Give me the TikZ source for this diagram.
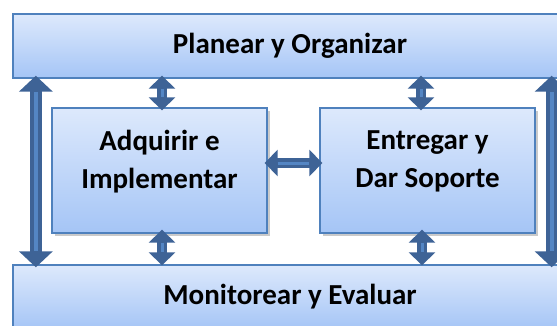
\documentclass[tikz,border=0pt]{standalone}
\usepackage{fontspec}
\setmainfont{Carlito}
\usepackage{tikz}
\usetikzlibrary{arrows.meta,calc,shadows,positioning}
\definecolor{boxtop}{RGB}{221,233,252}
\definecolor{boxbot}{RGB}{165,197,246}
\definecolor{boxline}{RGB}{79,129,189}
\definecolor{arrowdark}{RGB}{62,99,150}
\definecolor{arrowlight}{RGB}{84,134,196}
\tikzset{
  box/.style={draw=boxline, thick, top color=boxtop, bottom color=boxbot, font=\bfseries\fontsize{16.5}{20}\selectfont, align=center, inner sep=0pt},
  shadowbox/.style={box, drop shadow={shadow xshift=0.06cm, shadow yshift=-0.06cm, opacity=0.35, fill=black!60}},
  boxtext/.style={font=\bfseries\fontsize{16.5}{22}\selectfont, align=center},
  bigarrow/.style={draw=arrowdark, line width=0.24cm, {Triangle[width=0.66cm,length=0.32cm]}-{Triangle[width=0.66cm,length=0.32cm]},
    postaction={draw=arrowlight, line width=0.08cm, -, shorten >=0.32cm, shorten <=0.32cm}},
  smallarrow/.style={draw=arrowdark, line width=0.2cm, {Triangle[width=0.52cm,length=0.26cm]}-{Triangle[width=0.52cm,length=0.26cm]},
    postaction={draw=arrowlight, line width=0.06cm, -, shorten >=0.26cm, shorten <=0.26cm}}
}
\begin{document}
\begin{tikzpicture}[x=0.02cm,y=-0.02cm]
\useasboundingbox (0,0) rectangle (557,325);
\node[box, minimum width=11.08cm, minimum height=1.28cm] (planear) at (290,46) {Planear y Organizar};
\node[box, minimum width=11.08cm, minimum height=1.28cm, text depth=0.12cm] (monitorear) at (290,297) {Monitorear y Evaluar};
\node[shadowbox, minimum width=4.3cm, minimum height=2.5cm] (adquirir) at (159.5,170.5) {};
\node[shadowbox, minimum width=4.3cm, minimum height=2.5cm] (entregar) at (427.5,170.5) {};
\node[boxtext] (adquirirtxt) at ($(adquirir)+(0,-9)$) {Adquirir e\\Implementar};
\node[boxtext] (entregartxt) at ($(entregar)+(0,-9)$) {Entregar y\\Dar Soporte};
\draw[bigarrow] ($(planear.south west)+(23.5,-3)$) -- ($(monitorear.north west)+(23.5,3)$);
\draw[bigarrow] ($(planear.south east)+(-16,-3)$) -- ($(monitorear.north east)+(-16,3)$);
\draw[smallarrow] ($(planear.south -| adquirir.north)+(2.5,-3)$) -- ($(adquirir.north)+(2.5,3)$);
\draw[smallarrow] ($(planear.south -| entregar.north)+(-6.5,-3)$) -- ($(entregar.north)+(-6.5,3)$);
\draw[smallarrow] ($(adquirir.south)+(2.5,-4)$) -- ($(monitorear.north -| adquirir.south)+(2.5,1)$);
\draw[smallarrow] ($(entregar.south)+(-5.5,-4)$) -- ($(monitorear.north -| entregar.south)+(-5.5,1)$);
\draw[smallarrow] ($(adquirir.east)+(-3,-7.5)$) -- ($(entregar.west)+(3,-7.5)$);
\end{tikzpicture}
\end{document}
